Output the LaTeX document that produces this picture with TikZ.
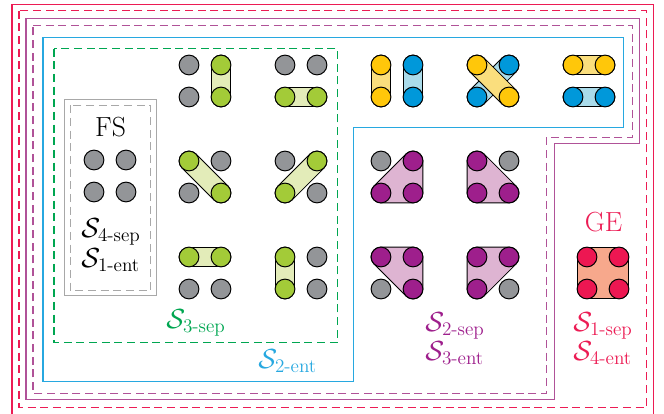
\documentclass[tikz,border=0pt]{standalone}
\usepackage{amsmath}
\usetikzlibrary{backgrounds}

\definecolor{gecrimson}{RGB}{236,28,84}
\definecolor{sepmag}{RGB}{176,82,152}
\definecolor{entblue}{RGB}{39,168,224}
\definecolor{sepgreen}{RGB}{0,166,81}
\definecolor{boxgrey}{RGB}{168,168,168}
\definecolor{qgrey}{RGB}{147,149,152}
\definecolor{qgreen}{RGB}{163,203,56}
\definecolor{qgreenl}{RGB}{227,236,185}
\definecolor{qyellow}{RGB}{255,199,10}
\definecolor{qyellowl}{RGB}{250,222,125}
\definecolor{qblue}{RGB}{0,152,218}
\definecolor{qbluel}{RGB}{170,219,234}
\definecolor{qpurple}{RGB}{158,31,140}
\definecolor{qpurplel}{RGB}{222,180,210}
\definecolor{qred}{RGB}{237,23,82}
\definecolor{qpeach}{RGB}{247,168,140}

\tikzset{every picture/.style={line width=0.75pt}}
\tikzset{
  qb/.style={circle, draw=black, line width=0.75pt, minimum size=14.8pt, inner sep=0pt},
  pairlink/.style={draw=#1, line width=14.05pt, line cap=round, line join=round,
    preaction={draw=black, line width=15.55pt, line cap=round, line join=round}},
  hulllink/.style={draw=#1, fill=#1, line width=14.05pt, line join=round,
    preaction={draw=black, line width=15.55pt, line join=round}},
  setlabel/.style={anchor=base west, inner sep=0pt, font=\huge},
  border/.style={line width=1.1pt},
  dashborder/.style={line width=1.1pt, dash pattern=on 6pt off 3.5pt},
}

\begin{document}
\begin{tikzpicture}[x=0.75pt,y=0.75pt,yscale=-1,xscale=1]
\clip (0,0) rectangle (664,414);

% Borders
\draw [border, draw=gecrimson] (12,4.5) rectangle (653.5,422);
\draw [dashborder, draw=gecrimson] (19,10.7) rectangle (646.5,407.5);
\draw [border, draw=sepmag] (26,18.3) -- (639.5,18.3) -- (639.5,143.3) -- (554.3,143.3) -- (554.3,399.5) -- (26,399.5) -- cycle;
\draw [dashborder, draw=sepmag] (33,25.3) -- (632.7,25.3) -- (632.7,137.3) -- (546.5,137.3) -- (546.5,393.3) -- (33,393.3) -- cycle;
\draw [border, draw=entblue] (43,37.5) -- (623.3,37.5) -- (623.3,127.7) -- (353.3,127.7) -- (353.3,381.5) -- (43,381.5) -- cycle;
\draw [dashborder, draw=sepgreen] (54,48.5) rectangle (337.5,342.7);
\draw [border, draw=boxgrey] (64.3,99.3) rectangle (156.3,295.5);
\draw [dashborder, draw=boxgrey] (70.3,105.3) rectangle (150.5,290.3);

% FS
\node [qb, fill=qgrey] (fs1) at (94,160) {};
\node [qb, fill=qgrey] (fs2) at (126,160) {};
\node [qb, fill=qgrey] (fs3) at (94,192) {};
\node [qb, fill=qgrey] (fs4) at (126,192) {};

% green pairs
\node [qb, fill=qgrey] (a1) at (189,65) {};
\node [qb, fill=qgreen] (a2) at (221,65) {};
\node [qb, fill=qgrey] (a3) at (189,97) {};
\node [qb, fill=qgreen] (a4) at (221,97) {};
\node [qb, fill=qgrey] (b1) at (285,65) {};
\node [qb, fill=qgrey] (b2) at (317,65) {};
\node [qb, fill=qgreen] (b3) at (285,97) {};
\node [qb, fill=qgreen] (b4) at (317,97) {};
\node [qb, fill=qgreen] (c1) at (189,161) {};
\node [qb, fill=qgrey] (c2) at (221,161) {};
\node [qb, fill=qgrey] (c3) at (189,193) {};
\node [qb, fill=qgreen] (c4) at (221,193) {};
\node [qb, fill=qgrey] (d1) at (285,161) {};
\node [qb, fill=qgreen] (d2) at (317,161) {};
\node [qb, fill=qgreen] (d3) at (285,193) {};
\node [qb, fill=qgrey] (d4) at (317,193) {};
\node [qb, fill=qgreen] (e1) at (189,257) {};
\node [qb, fill=qgreen] (e2) at (221,257) {};
\node [qb, fill=qgrey] (e3) at (189,289) {};
\node [qb, fill=qgrey] (e4) at (221,289) {};
\node [qb, fill=qgreen] (f1) at (285,257) {};
\node [qb, fill=qgrey] (f2) at (317,257) {};
\node [qb, fill=qgreen] (f3) at (285,289) {};
\node [qb, fill=qgrey] (f4) at (317,289) {};

% yellow and blue pairs
\node [qb, fill=qyellow] (g1) at (381,65) {};
\node [qb, fill=qblue] (g2) at (413,65) {};
\node [qb, fill=qyellow] (g3) at (381,97) {};
\node [qb, fill=qblue] (g4) at (413,97) {};
\node [qb, fill=qyellow] (h1) at (477,65) {};
\node [qb, fill=qblue] (h2) at (509,65) {};
\node [qb, fill=qblue] (h3) at (477,97) {};
\node [qb, fill=qyellow] (h4) at (509,97) {};
\node [qb, fill=qyellow] (i1) at (573,65) {};
\node [qb, fill=qyellow] (i2) at (605,65) {};
\node [qb, fill=qblue] (i3) at (573,97) {};
\node [qb, fill=qblue] (i4) at (605,97) {};

% purple triples
\node [qb, fill=qgrey] (j1) at (381,161) {};
\node [qb, fill=qpurple] (j2) at (413,161) {};
\node [qb, fill=qpurple] (j3) at (381,193) {};
\node [qb, fill=qpurple] (j4) at (413,193) {};
\node [qb, fill=qpurple] (k1) at (477,161) {};
\node [qb, fill=qgrey] (k2) at (509,161) {};
\node [qb, fill=qpurple] (k3) at (477,193) {};
\node [qb, fill=qpurple] (k4) at (509,193) {};
\node [qb, fill=qpurple] (l1) at (381,257) {};
\node [qb, fill=qpurple] (l2) at (413,257) {};
\node [qb, fill=qgrey] (l3) at (381,289) {};
\node [qb, fill=qpurple] (l4) at (413,289) {};
\node [qb, fill=qpurple] (m1) at (477,257) {};
\node [qb, fill=qpurple] (m2) at (509,257) {};
\node [qb, fill=qpurple] (m3) at (477,289) {};
\node [qb, fill=qgrey] (m4) at (509,289) {};

% GE
\node [qb, fill=qred] (ge1) at (587,257) {};
\node [qb, fill=qred] (ge2) at (619,257) {};
\node [qb, fill=qred] (ge3) at (587,289) {};
\node [qb, fill=qred] (ge4) at (619,289) {};

\begin{pgfonlayer}{background}
\draw [pairlink=qgreenl] (a2.center) -- (a4.center);
\draw [pairlink=qgreenl] (b3.center) -- (b4.center);
\draw [pairlink=qgreenl] (c1.center) -- (c4.center);
\draw [pairlink=qgreenl] (d3.center) -- (d2.center);
\draw [pairlink=qgreenl] (e1.center) -- (e2.center);
\draw [pairlink=qgreenl] (f1.center) -- (f3.center);
\draw [pairlink=qyellowl] (g1.center) -- (g3.center);
\draw [pairlink=qbluel] (g2.center) -- (g4.center);
\draw [pairlink=qbluel] (h3.center) -- (h2.center);
\draw [pairlink=qyellowl] (h1.center) -- (h4.center);
\draw [pairlink=qyellowl] (i1.center) -- (i2.center);
\draw [pairlink=qbluel] (i3.center) -- (i4.center);
\draw [hulllink=qpurplel] (j2.center) -- (j4.center) -- (j3.center) -- cycle;
\draw [hulllink=qpurplel] (k1.center) -- (k4.center) -- (k3.center) -- cycle;
\draw [hulllink=qpurplel] (l1.center) -- (l2.center) -- (l4.center) -- cycle;
\draw [hulllink=qpurplel] (m1.center) -- (m2.center) -- (m3.center) -- cycle;
\draw [hulllink=qpeach] (ge1.center) -- (ge2.center) -- (ge4.center) -- (ge3.center) -- cycle;
\end{pgfonlayer}

% Text Node
\node [anchor=base, inner sep=0pt, font=\huge] (fs) at (110.5,136.7) {FS};
% Text Node
\node [setlabel] (s4sep) at (81,237) {$\mathcal{S}_{\text{4-sep}}$};
% Text Node
\node [setlabel] (s1ent) at (81,267) {$\mathcal{S}_{\text{1-ent}}$};
% Text Node
\node [setlabel, text=sepgreen] (s3sep) at (166,328) {$\mathcal{S}_{\text{3-sep}}$};
% Text Node
\node [setlabel, text=entblue] (s2ent) at (258,368) {$\mathcal{S}_{\text{2-ent}}$};
% Text Node
\node [setlabel, text=qpurple] (s2sep) at (425,331) {$\mathcal{S}_{\text{2-sep}}$};
% Text Node
\node [setlabel, text=qpurple] (s3ent) at (425,360) {$\mathcal{S}_{\text{3-ent}}$};
% Text Node
\node [anchor=base, inner sep=0pt, font=\huge, text=gecrimson] (ge) at (603.5,231.7) {GE};
% Text Node
\node [setlabel, text=gecrimson] (s1sep) at (573,331) {$\mathcal{S}_{\text{1-sep}}$};
% Text Node
\node [setlabel, text=gecrimson] (s4ent) at (573,360) {$\mathcal{S}_{\text{4-ent}}$};

\end{tikzpicture}
\end{document}
